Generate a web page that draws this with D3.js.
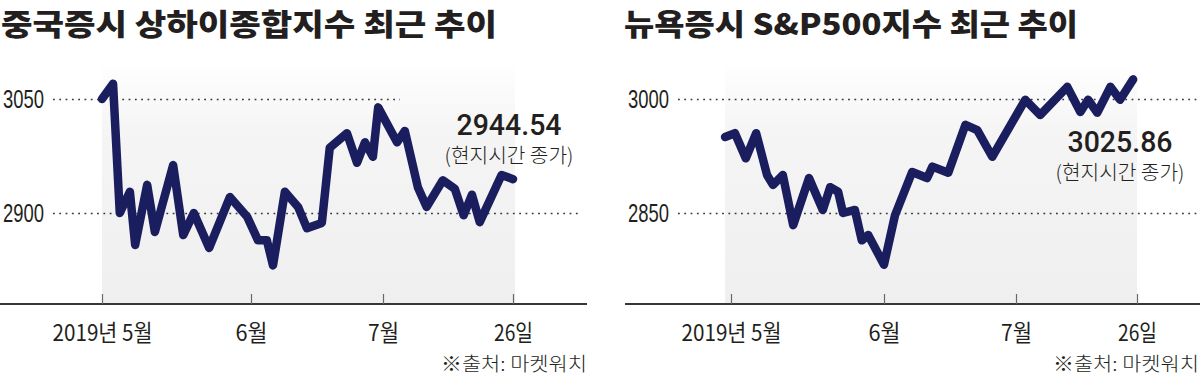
<!DOCTYPE html>
<html>
<head>
<meta charset="utf-8">
<script src="https://cdn.jsdelivr.net/npm/d3@7"></script>
<style>
  html, body { margin: 0; padding: 0; background: #fff; }
  svg { display: block; }
</style>
</head>
<body>
<svg id="chart" width="1200" height="377"></svg>
<script>
// 상하이종합지수 (5월 1일 기준 경과일, 종가)
const shDays = [0, 2.3, 3.7, 5.8, 6.9, 9.4, 11, 14.8, 16.9, 19.1, 22.3, 26.6, 30.2, 32.6, 34.6, 36, 38.7, 41.7, 43.7, 47.1, 48.9, 52.8, 55.1, 56.9, 58.7, 59.9, 63.7, 65.2, 67.7, 69.4, 72.5, 74.8, 76.5, 78.1, 79.6, 83.8, 86];
const shValues = [3050, 3070, 2900, 2928, 2858, 2937, 2875, 2963, 2871, 2900, 2854, 2921, 2895, 2864, 2864, 2831, 2928, 2908, 2880, 2887, 2986, 3005, 2966, 2993, 2974, 3039, 2993, 3008, 2934, 2908, 2943, 2932, 2897, 2924, 2888, 2950, 2944.54];

// S&P500 지수
const spDays = [-1.2, 0.8, 3, 5.1, 7.3, 8.5, 10.5, 12.6, 15.8, 18.6, 20.1, 21.7, 22.7, 25.1, 26.5, 27.8, 31, 33.5, 37.4, 40.8, 42, 45.6, 49.5, 52.2, 55.6, 62.9, 66, 71.6, 74.3, 75.9, 77.8, 80.5, 82.5, 85.2];
const spValues = [2950, 2955, 2922, 2955, 2900, 2887, 2900, 2834, 2896, 2854, 2884, 2878, 2850, 2854, 2814, 2821, 2782, 2847, 2904, 2896, 2911, 2903, 2966, 2959, 2924, 2999, 2979, 3016, 2983, 2999, 2982, 3016, 2999, 3025.86];

// x축 눈금 (5/1, 6/1, 7/1, 7/26)
const tickDays = [0, 31, 61, 86];
const tickLabels = ["2019년 5월", "6월", "7월", "26일"];

const shGrid = [2900, 3050];
const spGrid = [2850, 3000];

const titles = ["중국증시 상하이종합지수 최근 추이", "뉴욕증시 S&P500지수 최근 추이"];
const lastLabels = ["2944.54", "3025.86"];
const noteLabel = "(현지시간 종가)";
const sourceLabel = "※출처: 마켓워치";

const ink = "#231f20";
const navy = "#1b1e5e";
const cjk = "'Noto Sans CJK KR', sans-serif";
const tickWidths = [100, 32, 31, 39];   // 좁은 글꼴 흉내

const svg = d3.select("#chart");

const defs = svg.append("defs");
const grad = defs.append("linearGradient")
    .attr("id", "bgFade")
    .attr("x1", 0).attr("y1", 0).attr("x2", 0).attr("y2", 1);
grad.append("stop").attr("offset", "0%").attr("stop-color", "#f2f2f2").attr("stop-opacity", 0);
grad.append("stop").attr("offset", "30%").attr("stop-color", "#f2f2f2").attr("stop-opacity", 0.8);
grad.append("stop").attr("offset", "100%").attr("stop-color", "#efefef").attr("stop-opacity", 1);

const panels = [
    {
        days: shDays, values: shValues, grid: shGrid, title: titles[0], last: lastLabels[0],
        titleX: 1, titleW: 496,
        xRange: [102, 251, 383, 513], bgRight: 515,
        axisX: [0, 587], gridX: 53, gridEnd: { 3050: 400, 2900: 580 },
        note: { x: 509, y: 135 }, sourceX: 587
    },
    {
        days: spDays, values: spValues, grid: spGrid, title: titles[1], last: lastLabels[1],
        titleX: 624, titleW: 454,
        xRange: [731, 884, 1016, 1137], bgRight: 1137,
        axisX: [625, 1200], gridX: 678, gridEnd: { 3000: 1200, 2850: 1200 },
        note: { x: 1120, y: 152 }, sourceX: 1199
    }
];

panels.forEach(p => {
    const g = svg.append("g");

    const x = d3.scaleLinear().domain(tickDays).range(p.xRange);
    const y = d3.scaleLinear().domain([p.grid[0], p.grid[1]]).range([213, 99]);

    // 제목
    g.append("text")
        .attr("x", p.titleX)
        .attr("y", 35)
        .attr("textLength", p.titleW)
        .attr("lengthAdjust", "spacingAndGlyphs")
        .style("font-family", cjk)
        .style("font-weight", 900)
        .style("font-size", "30px")
        .style("fill", ink)
        .text(p.title);

    // 배경
    const bgLeft = x(d3.min(p.days));
    g.append("rect")
        .attr("x", bgLeft)
        .attr("y", 60)
        .attr("width", p.bgRight - bgLeft)
        .attr("height", 304 - 60)
        .attr("fill", "url(#bgFade)");

    // y 기준선
    const yAxis = g.append("g")
        .attr("transform", `translate(${p.gridX},0)`)
        .call(d3.axisLeft(y).tickValues(p.grid).tickSize(0).tickPadding(9).tickFormat(d3.format("d")));
    yAxis.select(".domain").remove();
    yAxis.selectAll(".tick line")
        .attr("x2", d => p.gridEnd[d] - p.gridX)
        .attr("stroke", "#3a3536")
        .attr("stroke-width", 1.7)
        .attr("stroke-dasharray", "1.8,4.5");
    yAxis.selectAll(".tick text")
        .attr("textLength", 41)
        .attr("lengthAdjust", "spacingAndGlyphs")
        .style("font-family", "'Liberation Sans', sans-serif")
        .style("font-size", "25px")
        .style("fill", ink);

    // 선
    const line = d3.line()
        .x((d, i) => x(p.days[i]))
        .y(d => y(d));
    g.append("path")
        .datum(p.values)
        .attr("d", line)
        .attr("fill", "none")
        .attr("stroke", navy)
        .attr("stroke-width", 8.5)
        .attr("stroke-linejoin", "round")
        .attr("stroke-linecap", "round");

    // x축
    g.append("line")
        .attr("x1", p.axisX[0]).attr("x2", p.axisX[1])
        .attr("y1", 304).attr("y2", 304)
        .attr("stroke", "#3a3536")
        .attr("stroke-width", 2);
    const xAxis = g.append("g")
        .attr("transform", "translate(0,304)")
        .call(d3.axisBottom(x).tickValues(tickDays).tickFormat((d, i) => tickLabels[i]).tickSize(-10).tickPadding(21));
    xAxis.select(".domain").remove();
    xAxis.selectAll(".tick line").attr("stroke", "#6b6667").attr("stroke-width", 1.2);
    xAxis.selectAll(".tick text")
        .attr("textLength", (d, i) => tickWidths[i])
        .attr("lengthAdjust", "spacingAndGlyphs")
        .style("font-family", cjk)
        .style("font-size", "23px")
        .style("fill", ink);

    // 마지막 값
    g.append("text")
        .attr("x", p.note.x)
        .attr("y", p.note.y)
        .attr("text-anchor", "middle")
        .attr("textLength", 105)
        .attr("lengthAdjust", "spacingAndGlyphs")
        .style("font-family", "Roboto, sans-serif")
        .style("font-weight", 500)
        .style("font-size", "30px")
        .style("fill", ink)
        .text(p.last);
    g.append("text")
        .attr("x", p.note.x)
        .attr("y", p.note.y + 28)
        .attr("text-anchor", "middle")
        .attr("textLength", 129)
        .attr("lengthAdjust", "spacingAndGlyphs")
        .style("font-family", cjk)
        .style("font-weight", 300)
        .style("font-size", "20px")
        .style("fill", ink)
        .text(noteLabel);

    // 출처
    g.append("text")
        .attr("x", p.sourceX)
        .attr("y", 371)
        .attr("text-anchor", "end")
        .attr("textLength", 146)
        .attr("lengthAdjust", "spacingAndGlyphs")
        .style("font-family", cjk)
        .style("font-weight", 300)
        .style("font-size", "19px")
        .style("fill", ink)
        .text(sourceLabel);
});
</script>
</body>
</html>
